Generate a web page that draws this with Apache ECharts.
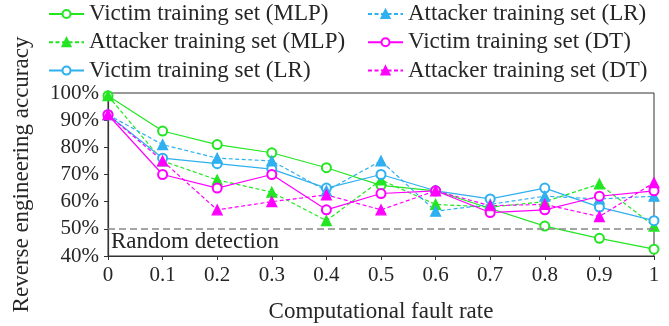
<!DOCTYPE html>
<html><head><meta charset="utf-8">
<script src="https://cdn.jsdelivr.net/npm/echarts@6/dist/echarts.min.js"></script>
<style>html,body{margin:0;padding:0;background:#fff}#c{width:669px;height:326px}</style>
</head><body><div id="c"></div>
<script>
const faultRates = [0, 0.1, 0.2, 0.3, 0.4, 0.5, 0.6, 0.7, 0.8, 0.9, 1.0];
const victimMLP   = [99, 86, 81, 78, 72.5, 66, 64, 57.5, 51, 46.5, 42.5];
const attackerMLP = [99, 75, 68, 63.5, 53, 68, 59, 58, 60, 66.5, 51];
const victimLR    = [92, 76, 74, 72, 65, 70, 64, 61, 65, 58, 53];
const attackerLR  = [92, 81, 76, 75, 64, 75, 56.5, 59, 62, 61, 62];
const victimDT    = [92, 70, 65, 70, 57, 63, 64, 56, 57, 62, 64];
const attackerDT  = [92, 75, 57, 60, 62.5, 57, 64, 58.5, 59, 54.5, 67];
const yTicks = [40, 50, 60, 70, 80, 90, 100];
const randomLevel = 50;

const GREEN = '#22e622', BLUE = '#2fb0f0', MAG = '#ff00ff';
const FONT = 'Liberation Serif';
const TXT = '#262626';

function pairs(vals){ return faultRates.map((x,i)=>[x, vals[i]]); }
function mk(name, vals, color, dashed, sym){
  return {
    name, type:'line', data: pairs(vals),
    symbol: sym === 'tri' ? 'triangle' : 'emptyCircle',
    symbolSize: sym === 'tri' ? 10 : 9,
    lineStyle:{color, width:1.2, type: dashed ? [4,2.5] : 'solid'},
    itemStyle:{color, borderColor: color, borderWidth: 1.2},
    emphasis:{disabled:true}, animation:false, z: 3
  };
}
const series = [
  mk('Victim training set (MLP)', victimMLP, GREEN, false, 'circ'),
  mk('Attacker training set (MLP)', attackerMLP, GREEN, true, 'tri'),
  mk('Victim training set (LR)', victimLR, BLUE, false, 'circ'),
  mk('Attacker training set (LR)', attackerLR, BLUE, true, 'tri'),
  mk('Victim training set (DT)', victimDT, MAG, false, 'circ'),
  mk('Attacker training set (DT)', attackerDT, MAG, true, 'tri'),
  {
    name:'random', type:'line', data:[], silent:true, animation:false,
    markLine:{
      symbol:['none','none'], silent:true, animation:false,
      lineStyle:{color:'#888', width:1.6, type:[7,4]},
      label:{show:true, position:'insideStartBottom', formatter:'Random detection',
        fontFamily:FONT, fontSize:23, color:TXT, distance:[3, 2]},
      data:[{yAxis: randomLevel}]
    }
  }
];
const legendText = {fontFamily:FONT, fontSize:23, color:TXT, lineHeight:24};
const chart = echarts.init(document.getElementById('c'), null, {renderer:'canvas'});
chart.setOption({
  animation:false,
  backgroundColor:'#fff',
  grid:{left:108, right:15, top:93, bottom:70, show:true, borderColor:'#333', borderWidth:1, backgroundColor:'transparent'},
  legend:[
    {left:48, top:2, orient:'vertical', itemWidth:35, itemHeight:10, itemGap:4.3,
     textStyle:legendText, padding:0,
     data:['Victim training set (MLP)','Attacker training set (MLP)','Victim training set (LR)']},
    {left:367, top:2, orient:'vertical', itemWidth:35, itemHeight:10, itemGap:4.3,
     textStyle:legendText, padding:0,
     data:['Attacker training set (LR)','Victim training set (DT)','Attacker training set (DT)']}
  ],
  xAxis:{type:'value', min:0, max:1, interval:0.1,
    name:'Computational fault rate', nameLocation:'middle', nameGap:44,
    nameTextStyle:{fontFamily:FONT, fontSize:23, color:TXT},
    axisLine:{lineStyle:{color:'#333', width:1.2}},
    axisTick:{show:true, length:4, inside:false, lineStyle:{color:'#333'}},
    axisLabel:{fontFamily:FONT, fontSize:21, color:TXT, margin:9,
      formatter: v => String(Math.round(v*10)/10)},
    splitLine:{show:false}},
  yAxis:{type:'value', min:yTicks[0], max:yTicks[yTicks.length-1], interval:10,
    name:'Reverse engineering accuracy', nameLocation:'middle', nameGap:75,
    nameTextStyle:{fontFamily:FONT, fontSize:23, color:TXT},
    axisLine:{show:true, lineStyle:{color:'#333', width:1.2}},
    axisTick:{show:true, length:4, inside:false, lineStyle:{color:'#333'}},
    axisLabel:{fontFamily:FONT, fontSize:21, color:TXT, margin:9, formatter: v => v + '%'},
    splitLine:{show:false}},
  series
});
</script></body></html>
